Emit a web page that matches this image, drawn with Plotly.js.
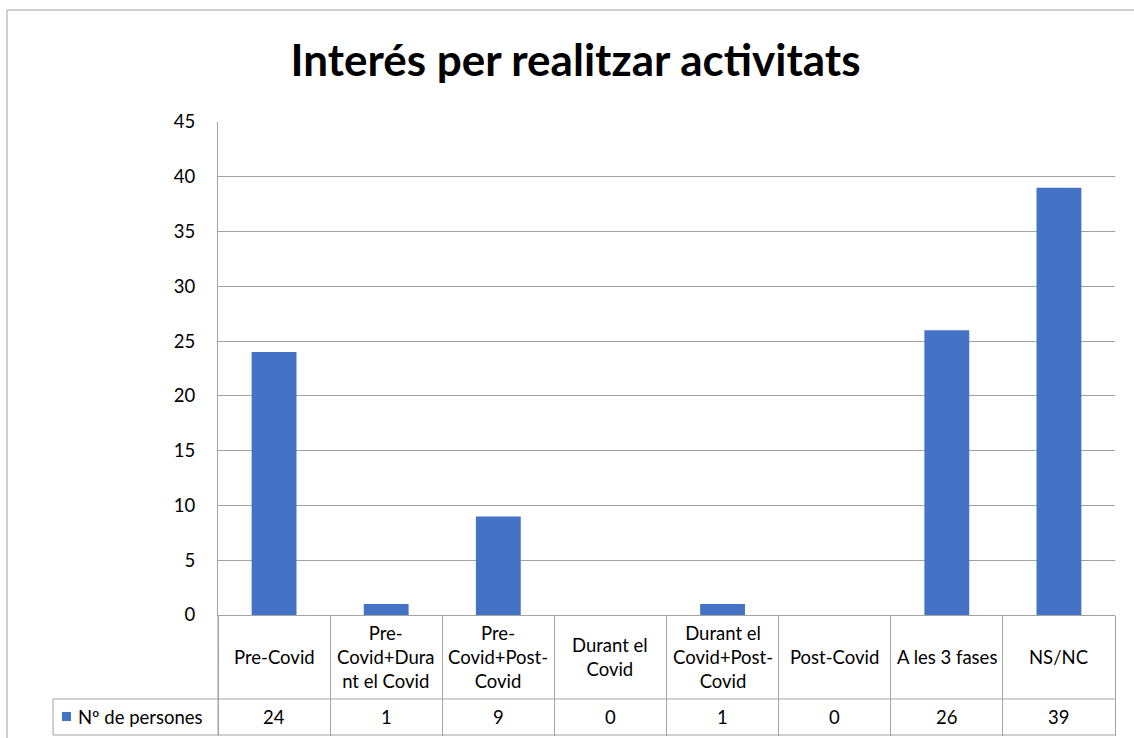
<!DOCTYPE html>
<html>
<head>
<meta charset="utf-8">
<script src="https://cdn.plot.ly/plotly-3.0.1.min.js"></script>
<style>html,body{margin:0;padding:0;background:#fff;}#chart{width:1134px;height:738px;}</style>
</head>
<body>
<div id="chart"></div>
<script>
// ---- data ----
const categories = ["Pre-Covid", "Pre-Covid+Durant el Covid", "Pre-Covid+Post-Covid", "Durant el Covid",
  "Durant el Covid+Post-Covid", "Post-Covid", "A les 3 fases", "NS/NC"];
const categoryLabels = ["Pre-Covid", "Pre-<br>Covid+Dura<br>nt el Covid", "Pre-<br>Covid+Post-<br>Covid",
  "Durant el<br>Covid", "Durant el<br>Covid+Post-<br>Covid", "Post-Covid", "A les 3 fases", "NS/NC"];
const values = [24, 1, 9, 0, 1, 0, 26, 39];
const seriesName = "Nº de persones";
const yTicks = [0, 5, 10, 15, 20, 25, 30, 35, 40, 45];
const titleText = "Interés per realitzar activitats";

// ---- layout geometry ----
const W = 1134, H = 738;
const L = 218, R = 1115, T = 122, B = 615;
const pw = R - L, ph = B - T;
const px = x => (x - L) / pw;        // pixel x -> paper
const py = y => (B - y) / ph;        // pixel y -> paper
const gridColor = "#a3a3a3";
const barColor = "#4472C4";
const font = "Lato, 'Open Sans', sans-serif";
const fs = 18.5;

const rowTop = 615, rowMid = 699, rowBot = 735, legLeft = 53;

const line = (x0, y0, x1, y1, color) => ({type: "line", xref: "paper", yref: "paper",
  x0: px(x0), y0: py(y0), x1: px(x1), y1: py(y1), line: {color: color || gridColor, width: 1}});

const shapes = [
  // outer chart border (top & left)
  line(7, 10, 1140, 10, "#a0a0a0"),
  line(7, 10, 7, 745, "#a0a0a0"),
  // data table
  line(L, rowMid, R, rowMid),
  line(legLeft, rowMid, legLeft, rowBot),
  line(legLeft, rowMid, L, rowMid),
  line(legLeft, rowBot, R, rowBot),
  line(L, rowTop, L, rowBot),
  // legend key
  {type: "rect", xref: "paper", yref: "paper", x0: px(62), x1: px(71), y0: py(712), y1: py(721),
   fillcolor: barColor, line: {width: 0}}
];

const annotations = [];
categories.forEach((c, i) => {
  annotations.push({x: c, xref: "x", y: py((rowTop + rowMid) / 2), yref: "paper",
    text: categoryLabels[i], showarrow: false, xanchor: "center", yanchor: "middle",
    font: {family: font, size: fs, color: "#000"}});
  annotations.push({x: c, xref: "x", y: py((rowMid + rowBot) / 2), yref: "paper",
    text: String(values[i]), showarrow: false, xanchor: "center", yanchor: "middle",
    font: {family: font, size: fs, color: "#000"}});
});
annotations.push({x: px(76), xref: "paper", y: py((rowMid + rowBot) / 2), yref: "paper",
  text: seriesName, showarrow: false, xanchor: "left", yanchor: "middle",
  font: {family: font, size: fs, color: "#000"}});

const trace = {
  type: "bar", x: categories, y: values, name: seriesName,
  marker: {color: barColor, line: {width: 0}},
  hoverinfo: "x+y"
};

const layout = {
  width: W, height: H,
  margin: {l: L, r: W - R, t: T, b: H - B, pad: 0},
  paper_bgcolor: "#fff", plot_bgcolor: "#fff",
  showlegend: false,
  bargap: 0.6,
  title: {text: "<b>" + titleText + "</b>", x: 575.5 / W, xanchor: "center", xref: "container",
    y: 1 - 61 / H, yanchor: "middle", yref: "container",
    font: {family: font, size: 44, color: "#000"}},
  xaxis: {type: "category", categoryorder: "array", categoryarray: categories,
    range: [-0.5, categories.length - 0.5], fixedrange: true,
    showticklabels: false, showgrid: false, zeroline: false,
    showline: true, linecolor: gridColor, linewidth: 1,
    ticks: "outside", tickson: "boundaries", ticklen: rowBot - rowTop, tickcolor: gridColor, tickwidth: 1},
  yaxis: {range: [0, 45], tickvals: yTicks, ticktext: yTicks.map(String), fixedrange: true,
    showgrid: true, gridcolor: gridColor, gridwidth: 1, zeroline: false,
    showline: true, linecolor: gridColor, linewidth: 1,
    ticks: "", ticklabelstandoff: 18,
    tickfont: {family: font, size: fs, color: "#000"}},
  shapes: shapes,
  annotations: annotations
};

Plotly.newPlot("chart", [trace], layout, {displayModeBar: false, staticPlot: true});
</script>
</body>
</html>
